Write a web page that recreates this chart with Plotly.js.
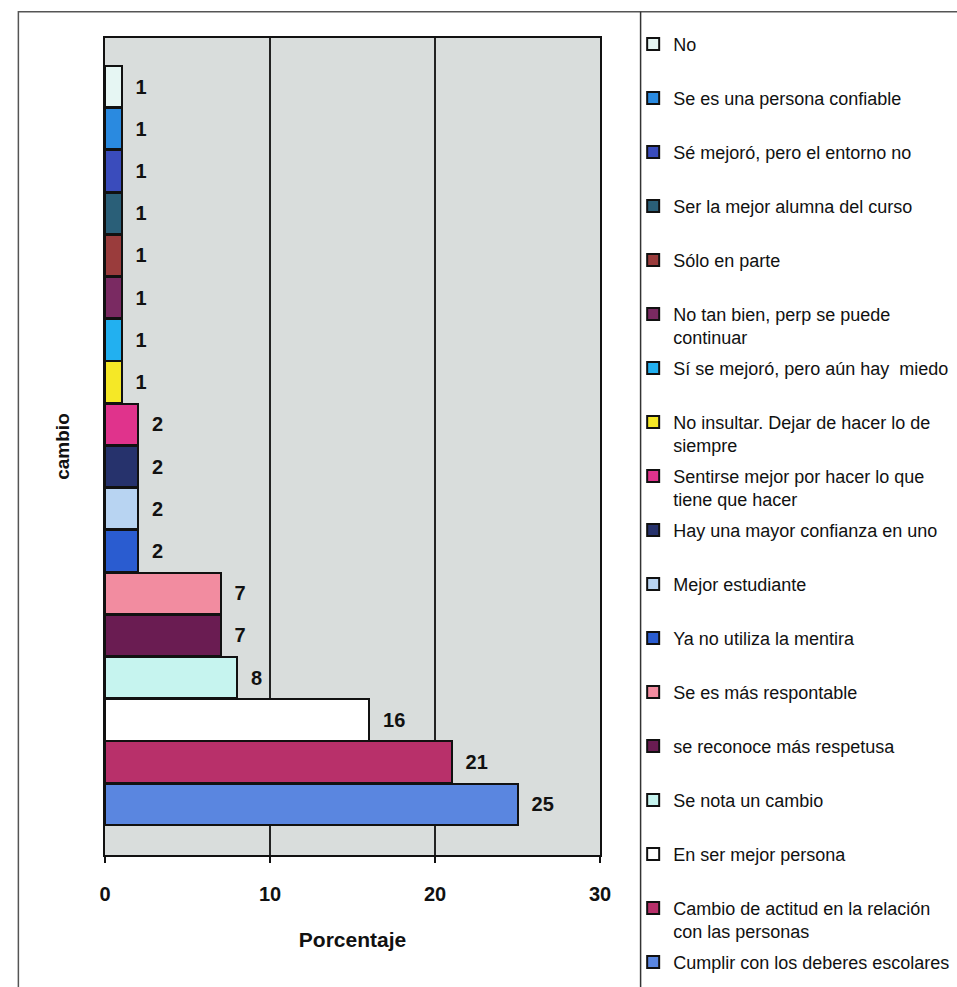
<!DOCTYPE html>
<html><head><meta charset="utf-8">
<script src="https://cdn.plot.ly/plotly-3.0.1.min.js"></script>
<style>body{margin:0;background:#fff}#c{width:957px;height:987px}</style>
</head><body><div id="c"></div>
<script>
const categories = [
  "No",
  "Se es una persona confiable",
  "Sé mejoró, pero el entorno no",
  "Ser la mejor alumna del curso",
  "Sólo en parte",
  "No tan bien, perp se puede continuar",
  "Sí se mejoró, pero aún hay miedo",
  "No insultar. Dejar de hacer lo de siempre",
  "Sentirse mejor por hacer lo que tiene que hacer",
  "Hay una mayor confianza en uno",
  "Mejor estudiante",
  "Ya no utiliza la mentira",
  "Se es más respontable",
  "se reconoce más respetusa",
  "Se nota un cambio",
  "En ser mejor persona",
  "Cambio de actitud en la relación con las personas",
  "Cumplir con los deberes escolares"
];
const legendLabels = [
  "No",
  "Se es una persona confiable",
  "Sé mejoró, pero el entorno no",
  "Ser la mejor alumna del curso",
  "Sólo en parte",
  "No tan bien, perp se puede<br>continuar",
  "Sí se mejoró, pero aún hay  miedo",
  "No insultar. Dejar de hacer lo de<br>siempre",
  "Sentirse mejor por hacer lo que<br>tiene que hacer",
  "Hay una mayor confianza en uno",
  "Mejor estudiante",
  "Ya no utiliza la mentira",
  "Se es más respontable",
  "se reconoce más respetusa",
  "Se nota un cambio",
  "En ser mejor persona",
  "Cambio de actitud en la relación<br>con las personas",
  "Cumplir con los deberes escolares"
];
const percentages = [1,1,1,1,1,1,1,1,2,2,2,2,7,7,8,16,21,25];
const colors = [
  "#e6f6f3","#2a8ae0","#3a4cbc","#2a5f78","#9a3c3c","#7a2a62",
  "#22b0f0","#f5e826","#e0338c","#26326c","#b8d4f2","#2a5cd0",
  "#f28ca0","#6a1c52","#c6f4ef","#ffffff","#b8306a","#5a86e0"
];
const xTicks = [0,10,20,30];

const traces = categories.map((c,i)=>{
  let name = legendLabels[i];
  if(name.indexOf('<br>')<0 && i < categories.length-1) name = name + '<br> ';
  return {
    type:'bar', orientation:'h',
    y:[c], x:[percentages[i]],
    name:name, legendgroup:'g'+i,
    marker:{color:colors[i], line:{color:'#111', width:2}},
    text:[String(percentages[i])], texttemplate:'  %{text}', textposition:'outside',
    textfont:{family:'Liberation Sans, Arial, sans-serif', size:20, color:'#111', weight:'bold'},
    cliponaxis:false, hoverinfo:'x+y'
  };
});

const layout = {
  width:957, height:987,
  paper_bgcolor:'#ffffff', plot_bgcolor:'#d9dddc',
  margin:{l:105, r:357, t:38, b:132, autoexpand:false},
  barmode:'stack', bargap:0.02,
  font:{family:'Liberation Sans, Arial, sans-serif', color:'#111'},
  xaxis:{
    range:[0,30], tickvals:xTicks, ticktext:xTicks.map(String),
    showgrid:true, gridcolor:'#222', gridwidth:1.2,
    showline:true, linecolor:'#111', linewidth:2, mirror:true,
    ticks:'outside', ticklen:6, tickcolor:'#111', tickwidth:1.5,
    ticklabelstandoff:14,
    tickfont:{size:20, weight:'bold', color:'#111'},
    zeroline:false, fixedrange:true,
    title:{text:'Porcentaje', font:{size:21, weight:'bold', color:'#111'}, standoff:28}
  },
  yaxis:{
    type:'category', categoryorder:'array', categoryarray:categories.slice().reverse(),
    range:[-1.2,18.15], showticklabels:false, ticks:'',
    showline:true, linecolor:'#111', linewidth:2, mirror:true,
    showgrid:false, zeroline:false, fixedrange:true,
    title:{text:'cambio', font:{size:19, weight:'bold', color:'#111'}, standoff:28}
  },
  showlegend:true,
  legend:{
    x:1.067, xanchor:'left', y:1.015, yanchor:'top',
    traceorder:'grouped', tracegroupgap:4.2, valign:'top',
    font:{family:'Liberation Sans, Arial, sans-serif', size:18, color:'#111'},
    bgcolor:'rgba(0,0,0,0)', borderwidth:0, itemwidth:30, maxheight:1200
  },
  shapes:[
    {type:'rect', xref:'paper', yref:'paper', x0:-0.175, x1:1.9, y0:-0.185, y1:1.032,
     line:{color:'#555', width:1.5}, fillcolor:'rgba(0,0,0,0)', layer:'below'},
    {type:'line', xref:'paper', yref:'paper', x0:1.082, x1:1.082, y0:-0.185, y1:1.032,
     line:{color:'#333', width:1.5}}
  ]
};
Plotly.newPlot('c', traces, layout, {displayModeBar:false, staticPlot:true});
</script></body></html>
